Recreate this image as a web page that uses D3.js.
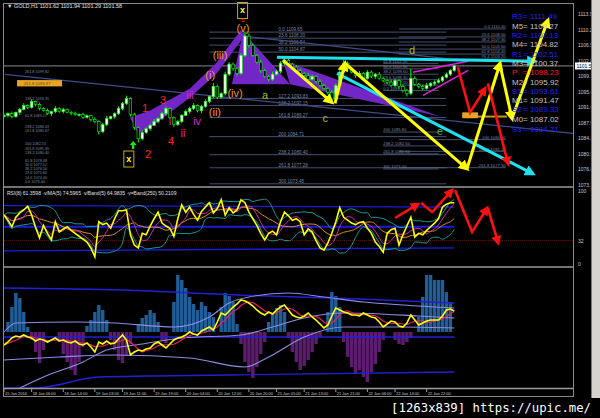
<!DOCTYPE html>
<html><head><meta charset="utf-8">
<script src="https://cdn.jsdelivr.net/npm/d3@7"></script>
<style>html,body{margin:0;padding:0;background:#000;}svg{display:block;font-family:"Liberation Sans",Arial,sans-serif;}</style>
</head><body>
<svg id="c" width="600" height="418"></svg>
<script>
// ---------- DATA ----------
const firstOpen = 1089.5;
const closes = [1089.8,1090.2,1089.5,1090.5,1091.2,1092.1,1091.7,1093.1,1092.4,1091.4,
 1090.9,1090.2,1090.7,1091.4,1090.7,1091.2,1090.5,1090.2,1090.0,1090.0,
 1089.3,1089.7,1088.8,1088.3,1085.9,1087.6,1089.0,1089.5,1090.2,1091.4,
 1092.6,1093.8,1090.0,1086.9,1084.2,1085.7,1086.6,1087.4,1088.3,1089.0,
 1090.2,1091.4,1089.3,1087.6,1088.3,1089.8,1090.7,1091.4,1092.1,1090.9,
 1091.9,1093.1,1094.3,1096.7,1094.1,1095.0,1099.6,1102.0,1101.0,1099.8,
 1104.1,1108.7,1106.5,1104.1,1102.5,1100.5,1099.1,1098.4,1099.6,1100.3,
 1102.2,1102.9,1102.0,1101.3,1100.5,1099.8,1099.3,1098.4,1099.1,1097.9,
 1096.9,1096.2,1095.3,1093.6,1096.9,1100.1,1102.2,1101.0,1100.1,1099.3,
 1099.8,1098.6,1100.1,1099.1,1099.6,1098.6,1098.1,1097.7,1096.9,1098.1,
 1096.7,1095.7,1095.0,1098.6,1097.2,1096.7,1096.2,1096.9,1097.4,1097.7,
 1098.1,1098.9,1099.6,1100.5,1101.6];
const wickHi = [0.4,0.3,0.5,0.2,0.4,0.6,0.3,0.5,0.2,0.4, 0.3,0.5,0.2,0.6,0.3,0.4,0.2,0.3,0.5,0.2,
 0.4,0.3,0.2,0.5,0.3,0.4,0.6,0.2,0.3,0.5, 0.4,0.7,0.3,0.4,0.2,0.5,0.3,0.4,0.6,0.3,
 0.4,0.5,0.3,0.2,0.4,0.3,0.5,0.4,0.6,0.3, 0.4,0.5,0.3,0.8,0.4,0.3,0.6,0.5,0.4,0.3,
 0.5,1.0,0.6,0.4,0.3,0.5,0.4,0.3,0.6,0.4, 0.5,0.7,0.4,0.3,0.5,0.4,0.3,0.6,0.4,0.3,
 0.5,0.4,0.3,0.6,0.5,0.4,0.8,0.5,0.3,0.4, 0.6,0.3,0.5,0.4,0.3,0.5,0.4,0.3,0.6,0.4,
 0.3,0.5,0.4,2.3,0.5,0.3,0.4,0.6,0.3,0.4, 0.5,0.3,0.4,0.3,0.2];
const wickLo = [0.3,0.5,0.4,0.3,0.6,0.2,0.4,0.3,0.5,0.4, 0.2,0.3,0.6,0.4,0.3,0.5,0.2,0.4,0.3,0.5,
 0.4,0.3,0.5,0.4,0.7,0.3,0.4,0.2,0.5,0.3, 0.4,0.3,0.5,0.6,0.9,0.4,0.3,0.5,0.2,0.4,
 0.3,0.5,0.4,0.6,0.3,0.4,0.2,0.5,0.3,0.4, 0.6,0.3,0.4,0.5,0.4,0.3,0.5,0.4,0.6,0.5,
 0.3,0.4,0.5,0.3,0.4,0.6,0.3,0.5,0.4,0.3, 0.5,0.4,0.3,0.6,0.4,0.3,0.5,0.4,0.3,0.5,
 0.4,0.3,0.6,1.0,0.4,0.3,0.5,0.4,0.3,0.6, 0.4,0.5,0.3,0.4,0.6,0.3,0.4,0.5,0.3,0.4,
 0.6,0.5,0.7,0.4,0.3,0.5,0.4,0.3,0.4,0.5, 0.3,0.4,0.3,0.4,0.3];
const priceTicks = [1113.97,1110.27,1106.57,1102.87,1099.17,1095.47,1091.67,1087.97,1084.27,1080.57,1076.87,1073.17];
const lastPrice = 1101.58;
const timeTickIdx = [0,7,15,23,30,38,46,54,62,69,76,84,92,99,107];
const timeTickLabels = ["15 Jan 2016","18 Jan 06:00","18 Jan 14:00","19 Jan 03:00","19 Jan 11:00","19 Jan 19:00","20 Jan 04:00","20 Jan 12:00","20 Jan 20:00","21 Jan 05:00","21 Jan 13:00","21 Jan 21:00","22 Jan 06:00","22 Jan 14:00","22 Jan 22:00"];

const rsi = [67,60,51,64,70,74,79,67,50,36, 53,42,33,58,44,48,51,46,42,38,
 34,30,22,10,58,54,56,49,62,73, 73,74,40,26,22,42,40,52,62,71,
 56,52,49,38,62,81,71,78,68,60, 72,78,84,70,76,88,67,77,70,74,
 88,84,71,62,53,42,33,42,45,40, 58,71,66,60,62,58,40,48,44,32,
 22,19,29,42,58,77,64,60,56,54, 57,58,49,42,30,24,16,42,47,49,
 26,40,52,64,37,42,40,46,51,56, 62,78,82,84,84];
const rsiLevelLine = 32;
const rsiAxisLabels = [100,32,0];
const rsiBlueUpper = [[0,80],[114,78]];
const rsiBlueMid = [[0,51],[114,51]];
const rsiBlueLower = [[0,18],[114,22]];

const hist = [0,10,25,39,34,20,5,-8,-20,-31, -18,0,0,0,-10,-22,-30,-38,-43,-30,
 -15,6,12,20,27,22,12,-8,-18,-28, -31,-24,-12,0,8,14,17,22,19,10,
 -8,-11,0,30,57,52,44,35,28,22, 30,26,20,15,0,25,39,36,30,8,
 -12,-30,-40,-46,-35,-22,-10,10,18,24, 27,20,-6,-20,-30,-38,-34,-28,-20,-12,
 -5,0,20,40,36,25,-10,-25,-35,-42, -38,-45,-50,-40,-32,-20,-8,0,0,-8,
 -12,-13,-10,-6,0,15,35,57,57,52, 52,52,40,30,0];
const osc = [-13,-10,-6,-4,-5,-3,-5,-6,-9,-7, -8,-10,-8,-6,-9,-8,-10,-11,-9,-12,
 -13,-11,-15,-20,-10,-12,-9,-12,-11,-7, -3,-8,-23,-20,-18,-19,-17,-16,-12,-10,
 -13,-16,-12,-8,-6,-5,-3,0,-2,-3, 1,3,5,2,10,19,17,21,25,28,
 32,31,29,26,22,19,17,20,18,22, 25,27,22,17,15,14,16,19,15,12,
 8,4,7,16,24,22,20,19,17,17, 16,19,17,15,14,10,5,8,11,10,
 6,5,9,17,12,7,9,11,12,12, 12,16,22,23,21];
const bandUpper = [[0,0],[3,9],[18,10],[28,9],[43,5],[52,15],[57,29],[62,35],[72,39],[81,35],[91,30],[101,27],[114,24]];
const bandLower = [[0,-28],[14,-25],[28,-23],[47,-26],[61,-35],[67,-25],[76,-5],[86,5],[101,5],[114,4]];
const longMA = [[4,-56],[10,-45],[20,-30],[26,-18],[35,-12],[45,-6],[60,-3],[68,5],[76,14],[86,19],[105,16],[114,14]];
const blueUpper = [[0,44],[30,42],[59,37],[90,33],[114,29]];
const blueMid = [[0,-5],[114,-5]];
const blueLower = [[0,-56],[8,-56],[24,-45],[57,-43],[114,-40]];

const pivotNames = ["R3","M5","R2","M4","R1","M3","P","M2","S1","M1","S2","M0","S3"];
const pivotValues = [1111.49,1109.27,1107.13,1104.82,1102.51,1100.37,1098.23,1095.92,1093.61,1091.47,1089.33,1087.02,1084.71];

const fibBLevels = ["0.0","23.6","38.2","50.0","127.2","138.2","161.8","200","238.2","261.8","300"];
const fibBPrices = [1109.65,1108.20,1106.54,1104.87,1093.83,1092.15,1089.27,1084.71,1080.40,1077.28,1073.45];
const fibCLevels = ["0.0","23.6","38.2","50.0","61.8","76.4","200","161.8","261.8"];
const fibCPrices = [1110.40,1108.50,1107.30,1105.60,1104.40,1103.20,1084.00,1081.20,1077.30];
const fibDLevels = ["61.8","50.0","38.2","23.6","14.6","0.0","200","238.2","261.8","300"];
const fibDPrices = [1102.20,1100.90,1099.60,1098.30,1097.00,1095.70,1085.80,1082.50,1080.60,1077.00];
const fibELevels = ["261.8","138.2","61.8","238.2","161.8","100","161.8","138.2","61.8","50.0","38.2","23.6","14.6","0.0"];
const fibEPrices = [1099.82,1093.35,1089.27,1086.63,1085.67,1082.55,1081.35,1080.40,1078.48,1077.52,1076.56,1075.60,1074.40,1073.44];

const purpleA = [[31.9,1089.27],[37.0,1090.95],[47.1,1096.22],[53.9,1102.46],[60.0,1110.13],[60.8,1108.69],[53.9,1099.82],[47.1,1094.07],[37.0,1086.87],[33.9,1085.43]];
const purpleB = [[60.5,1109.65],[57.7,1097.18],[72.4,1097.18]];
const purpleC = [[70.6,1102.94],[110.4,1089.51],[72.4,1097.18]];

const yellowArrows = [
 [[70.6,1102.94],[83.0,1092.87]],
 [[83.8,1092.63],[86.3,1102.22]],
 [[86.3,1102.22],[117.2,1077.04]],
 [[117.2,1077.04],[125.6,1102.22]],
 [[125.6,1101.74],[128.6,1089.03]],
 [[128.6,1089.03],[137.7,1112.53]]];
const cyanArrows = [
 [[69.1,1103.66],[134.4,1102.70]],
 [[84.3,1099.82],[133.9,1075.84]]];
const redArrows = [
 [[114.9,1101.26],[118.0,1090.47],[121.8,1096.22]],
 [[122.5,1097.42],[127.6,1078.24]]];
const redRsiArrows = [
 [[99.0,63],[104.8,82]],
 [[105.6,83.6],[108.4,71.2],[113.4,101]],
 [[114.2,101],[118.5,43.8],[122.3,76.7]],
 [[122.5,76.7],[125.1,28.8]]];
const magentaLines = [
 [[103.5,1100.06],[117.5,1102.7]],
 [[106.1,1094.55],[117.5,1100.54]]];
const slateLines = [
 [[0.25,1099.58],[144.6,1085.43]],
 [[60.5,1108.7],[111.6,1103.4]]];

const waveLabels = [
 {t:"1",i:35.7,p:1091.43,c:"#ff2020"},{t:"2",i:36.5,p:1080.64,c:"#ff2020"},
 {t:"3",i:40.3,p:1093.35,c:"#ff2020"},{t:"4",i:42.3,p:1083.75,c:"#ff2020"},
 {t:"i",i:42.0,p:1088.55,c:"#d828c8"},{t:"ii",i:45.3,p:1085.67,c:"#d828c8"},
 {t:"iii",i:47.1,p:1094.55,c:"#d828c8"},{t:"iv",i:48.9,p:1088.55,c:"#d828c8"},
 {t:"(i)",i:52.2,p:1099.34,c:"#f0962a"},{t:"(ii)",i:53.4,p:1090.47,c:"#f0962a"},
 {t:"(iii)",i:54.7,p:1104.14,c:"#f0962a"},{t:"(iv)",i:58.5,p:1095.03,c:"#f0962a"},
 {t:"(v)",i:60.5,p:1110.6,c:"#f0962a"},
 {t:"a",i:66.1,p:1094.55,c:"#b8b41a"},{t:"c",i:81.3,p:1089.27,c:"#b8b41a"},
 {t:"d",i:103.3,p:1105.34,c:"#9cbc1c"},{t:"e",i:110.4,p:1086.15,c:"#3cb850"}];

// ---------- SCALES ----------
const svg = d3.select("#c");
const N = closes.length;
const x = d3.scaleLinear().domain([0, N-1]).range([4, 454.3]);
const y = d3.scaleLinear().domain([1073.17, 1113.97]).range([185, 14]);
const yr = d3.scaleLinear().domain([0, 100]).range([264, 191]);
const yb = d3.scaleLinear().domain([-56, 64]).range([388, 268]);

svg.append("rect").attr("width",600).attr("height",418).attr("fill","#000");
const defs = svg.append("defs");
function clip(id,x0,y0,w,h){defs.append("clipPath").attr("id",id).append("rect").attr("x",x0).attr("y",y0).attr("width",w).attr("height",h);}
clip("cm",4,4,569,182); clip("cr",4,188,569,78); clip("cb",4,268,569,120);
function marker(id,color,s){
  defs.append("marker").attr("id",id).attr("viewBox","0 0 10 10").attr("refX",7).attr("refY",5)
   .attr("markerWidth",s).attr("markerHeight",s).attr("markerUnits","userSpaceOnUse").attr("orient","auto")
   .append("path").attr("d","M0,0 L10,5 L0,10 z").attr("fill",color);
}
marker("my","#ffff00",11); marker("mc","#1ee0f0",11); marker("mr","#ff1010",10);

const gm = svg.append("g").attr("clip-path","url(#cm)");
const gr = svg.append("g").attr("clip-path","url(#cr)");
const gb = svg.append("g").attr("clip-path","url(#cb)");
const lineP = d3.line().x(d=>x(d[0])).y(d=>y(d[1]));
const lineR = d3.line().x(d=>x(d[0])).y(d=>yr(d[1]));
const lineB = d3.line().x(d=>x(d[0])).y(d=>yb(d[1]));

// ---------- MAIN PANEL ----------
function fibSet(levels, prices, i0, i1, labelIdx, anchor, fs){
  prices.forEach((p,k)=>{
    if(i1!==null) gm.append("line").attr("x1",x(i0)).attr("x2",x(i1)).attr("y1",y(p)).attr("y2",y(p))
      .attr("stroke","#56648a").attr("stroke-width",0.8);
    gm.append("text").attr("x",x(labelIdx)).attr("y",y(p)-0.8).attr("text-anchor",anchor)
      .attr("font-size",fs).attr("fill","#7a88aa").text(levels[k]+" "+p.toFixed(2));
  });
}
fibSet(fibBLevels, fibBPrices, 52, 112, 69.5, "start", 4.6);
fibSet(fibCLevels, fibCPrices, 100, 127, 127, "end", 4.2);
fibSet(fibDLevels, fibDPrices, 96, 110, 96, "start", 4.2);
fibSet(fibELevels, fibEPrices, 0, null, 5.3, "start", 3.8);

gm.append("line").attr("x1",4).attr("x2",573).attr("y1",y(lastPrice)).attr("y2",y(lastPrice)).attr("stroke","#8a8a8a").attr("stroke-width",1);
slateLines.forEach(l=>gm.append("path").attr("d",lineP(l)).attr("stroke","#3e4c86").attr("stroke-width",1.2).attr("fill","none"));

[purpleA,purpleB,purpleC].forEach(pg=>gm.append("path").attr("d",lineP(pg)+"Z").attr("fill","#7226c6").attr("stroke","none"));

gm.append("rect").attr("x",x(3.3)).attr("y",y(1098.2)).attr("width",x(14.7)-x(3.3)).attr("height",y(1096.7)-y(1098.2)).attr("fill","#e8a424");
gm.append("text").attr("x",x(5)).attr("y",y(1096.7)-1.2).attr("font-size",4.2).attr("fill","#6a4a10").text("261.8 1096.97");
gm.append("rect").attr("x",x(116)).attr("y",y(1090.5)).attr("width",x(120)-x(116)).attr("height",y(1089.1)-y(1090.5)).attr("fill","#e8a424");
gm.append("line").attr("x1",x(120)).attr("x2",x(127.3)).attr("y1",y(1089.5)).attr("y2",y(1089.5)).attr("stroke","#c89420").attr("stroke-width",2);

const bars = closes.map((c,i)=>{const o=i===0?firstOpen:closes[i-1];return {i,o,c,h:Math.max(o,c)+wickHi[i],l:Math.min(o,c)-wickLo[i]};});
const cg = gm.append("g");
cg.selectAll("line.w").data(bars).enter().append("line").attr("x1",d=>x(d.i)).attr("x2",d=>x(d.i))
  .attr("y1",d=>y(d.h)).attr("y2",d=>y(d.l)).attr("stroke","#00ff00").attr("stroke-width",1);
cg.selectAll("rect.b").data(bars).enter().append("rect").attr("x",d=>x(d.i)-1.3).attr("width",2.6)
  .attr("y",d=>y(Math.max(d.o,d.c))).attr("height",d=>Math.max(0.8,Math.abs(y(d.o)-y(d.c))))
  .attr("fill",d=>d.c>=d.o?"#ffffff":"#000000").attr("stroke","#00ff00").attr("stroke-width",0.6);

magentaLines.forEach(l=>gm.append("path").attr("d",lineP(l)).attr("stroke","#e020e0").attr("stroke-width",1.5).attr("fill","none"));
cyanArrows.forEach(l=>gm.append("path").attr("d",lineP(l)).attr("stroke","#1ee0f0").attr("stroke-width",3).attr("fill","none").attr("marker-end","url(#mc)"));
yellowArrows.forEach(l=>gm.append("path").attr("d",lineP(l)).attr("stroke","#ffff00").attr("stroke-width",3).attr("fill","none").attr("marker-end","url(#my)"));
redArrows.forEach(l=>gm.append("path").attr("d",lineP(l)).attr("stroke","#ff1010").attr("stroke-width",2.6).attr("fill","none").attr("marker-end","url(#mr)"));

waveLabels.forEach(w=>gm.append("text").attr("x",x(w.i)).attr("y",y(w.p)+4).attr("text-anchor","middle")
  .attr("font-size",11).attr("fill",w.c).text(w.t));

function xbox(i,p){
  const cx=x(i), cy=y(p);
  svg.append("rect").attr("x",cx-5).attr("y",cy-8).attr("width",10).attr("height",16).attr("fill","#000").attr("stroke","#c8b000").attr("stroke-width",1);
  svg.append("text").attr("x",cx).attr("y",cy+3).attr("text-anchor","middle").attr("font-size",9).attr("font-weight","bold").attr("fill","#ffff40").text("x");
}
xbox(31.6,1079.37); xbox(60.4,1114.81);
svg.append("text").attr("x",x(60.5)).attr("y",y(1112.6)+2).attr("text-anchor","middle").attr("font-size",6).attr("fill","#ff3010").text("5");
{const gx=x(32.7), gy=y(1082.47);
 svg.append("path").attr("d",`M${gx},${gy-5} L${gx+3.5},${gy-1} L${gx+1.2},${gy-1} L${gx+1.2},${gy+3} L${gx-1.2},${gy+3} L${gx-1.2},${gy-1} L${gx-3.5},${gy-1} Z`).attr("fill","#20e020");}

pivotNames.forEach((n,k)=>{
  const col = n==="P"?"#ff1a1a":(n[0]==="M"?"#c4c4c4":"#2020ff");
  const yy = y(pivotValues[k])-5;
  gm.append("text").attr("x",512).attr("y",yy).attr("font-size",8).attr("fill",col).text(n);
  gm.append("text").attr("x",523).attr("y",yy).attr("font-size",8).attr("fill",col).text("= "+pivotValues[k].toFixed(2));
});

svg.append("text").attr("x",7).attr("y",8).attr("font-size",5.5).attr("fill","#e0e0e0").text("\u25BC GOLD,H1  1101.62 1101.94 1101.29 1101.58");

// ---------- RSI PANEL ----------
function sma(a,n){return a.map((v,i)=>d3.mean(a.slice(Math.max(0,i-n+1),i+1)));}
function sdev(a,n){return a.map((v,i)=>{const s=a.slice(Math.max(0,i-n+1),i+1);return s.length>1?d3.deviation(s):0;});}
[rsiBlueUpper,rsiBlueMid,rsiBlueLower].forEach((l,k)=>gr.append("path").attr("d",lineR(l)).attr("stroke","#1c1cd8").attr("stroke-width",k===1?2:1.3).attr("fill","none"));
gr.append("line").attr("x1",4).attr("x2",573).attr("y1",yr(rsiLevelLine)).attr("y2",yr(rsiLevelLine)).attr("stroke","#5a1010").attr("stroke-width",1).attr("stroke-dasharray","1,1");
const rMid = sma(rsi,8), rSd = sdev(rsi,8);
const rUp = rMid.map((m,i)=>[i,m+1.3*rSd[i]]), rLo = rMid.map((m,i)=>[i,m-1.3*rSd[i]]);
const lineRc = d3.line().x(d=>x(d[0])).y(d=>yr(d[1])).curve(d3.curveMonotoneX);
gr.append("path").attr("d",lineRc(rUp)).attr("stroke","#1a9a9a").attr("stroke-width",1).attr("fill","none");
gr.append("path").attr("d",lineRc(rLo)).attr("stroke","#1a9a9a").attr("stroke-width",1).attr("fill","none");
gr.append("path").attr("d",lineRc(sma(rsi,10).map((v,i)=>[i,v]))).attr("stroke","#e08a20").attr("stroke-width",1).attr("fill","none");
gr.append("path").attr("d",lineRc(sma(rsi,4).map((v,i)=>[i,v]))).attr("stroke","#d030b0").attr("stroke-width",1).attr("fill","none");
gr.append("path").attr("d",lineR(rsi.map((v,i)=>[i,v]))).attr("stroke","#ffff00").attr("stroke-width",1.6).attr("fill","none");
redRsiArrows.forEach(l=>svg.append("path").attr("d",lineR(l)).attr("stroke","#ff1010").attr("stroke-width",2.6).attr("fill","none").attr("marker-end","url(#mr)"));
svg.append("text").attr("x",7).attr("y",195).attr("font-size",5).attr("fill","#e0e0e0")
  .text("RSI(8) 61.3598  \u00B7v/MA(5) 74.5965  \u00B7v/Band(5) 64.9835  \u00B7v=Band(250) 50.2109");
rsiAxisLabels.forEach(v=>svg.append("text").attr("x",578).attr("y",yr(v)+2).attr("font-size",5).attr("fill","#c8c8c8").text(v));

// ---------- BOTTOM PANEL ----------
gb.selectAll("rect.h").data(hist.map((v,i)=>({i,v})).filter(d=>d.v!==0)).enter().append("rect")
  .attr("x",d=>x(d.i)-1.7).attr("width",3.4)
  .attr("y",d=>d.v>0?yb(d.v):yb(0)).attr("height",d=>Math.abs(yb(d.v)-yb(0)))
  .attr("fill",d=>d.v>0?"#1f5e98":"#5e1c70");
const lineBc = d3.line().x(d=>x(d[0])).y(d=>yb(d[1])).curve(d3.curveMonotoneX);
[blueUpper,blueMid,blueLower].forEach(l=>gb.append("path").attr("d",lineBc(l)).attr("stroke","#2020d8").attr("stroke-width",1.4).attr("fill","none"));
[bandUpper,bandLower,longMA].forEach(l=>gb.append("path").attr("d",lineBc(l)).attr("stroke","#8c8ce6").attr("stroke-width",1.1).attr("fill","none"));
gb.append("path").attr("d",lineB(sma(osc,4).map((v,i)=>[i,v]))).attr("stroke","#e8205a").attr("stroke-width",1.2).attr("fill","none");
gb.append("path").attr("d",lineB(osc.map((v,i)=>[i,v]))).attr("stroke","#ffff00").attr("stroke-width",1.6).attr("fill","none");

// ---------- FRAME & AXES ----------
svg.append("rect").attr("x",3.5).attr("y",3.5).attr("width",570).attr("height",393).attr("fill","none").attr("stroke","#8a8a8a");
[187,267,388.5].forEach(v=>svg.append("line").attr("x1",3.5).attr("x2",573.5).attr("y1",v).attr("y2",v).attr("stroke","#9a9a9a").attr("stroke-width",1.5));
priceTicks.forEach(p=>svg.append("text").attr("x",578).attr("y",y(p)+2).attr("font-size",5).attr("fill","#c8c8c8").text(p.toFixed(2)));
svg.append("rect").attr("x",575).attr("y",y(lastPrice)-3.5).attr("width",17).attr("height",7).attr("fill","#ffffff");
svg.append("text").attr("x",576.5).attr("y",y(lastPrice)+2).attr("font-size",5).attr("fill","#000").text(lastPrice.toFixed(2));
timeTickIdx.forEach((ti,k)=>{
  svg.append("line").attr("x1",x(ti)).attr("x2",x(ti)).attr("y1",389).attr("y2",392).attr("stroke","#9a9a9a");
  svg.append("text").attr("x",x(ti)+1).attr("y",394.5).attr("font-size",4).attr("fill","#c8c8c8").text(timeTickLabels[k]);
});
svg.append("rect").attr("x",592).attr("y",0).attr("width",8).attr("height",398).attr("fill","#d6d3ce");
svg.append("line").attr("x1",591.5).attr("x2",591.5).attr("y1",0).attr("y2",398).attr("stroke","#7a7a7a");
svg.append("text").attr("x",591).attr("y",412).attr("text-anchor","end").attr("font-size",12.3)
  .attr("font-family","'DejaVu Sans Mono',monospace").attr("fill","#ffffff").text("[1263x839] https://upic.me/");
</script>
</body></html>
